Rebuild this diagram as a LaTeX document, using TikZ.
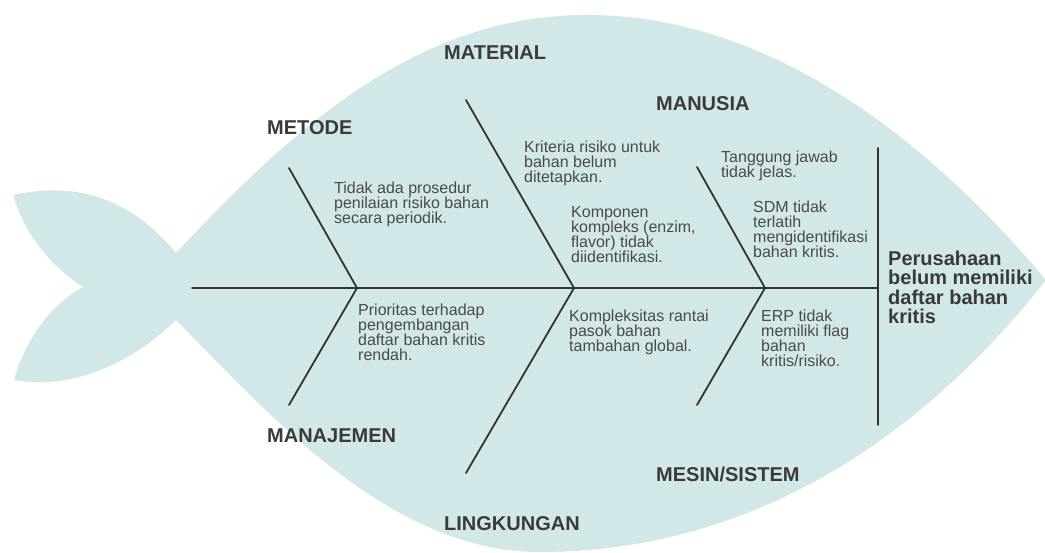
\documentclass[tikz,border=0pt]{standalone}
\usepackage{fontspec}
\setmainfont{Liberation Sans}
\definecolor{fishfill}{HTML}{D2E7E7}
\definecolor{bonecol}{HTML}{333333}
\definecolor{labelcol}{HTML}{3A3A3A}
\definecolor{causecol}{HTML}{4A4A4A}
\newcommand\tstr{\rule{0pt}{13pt}}
\newcommand\hstr{\rule{0pt}{16pt}}
\begin{document}
\begin{tikzpicture}[x=1pt,y=-1pt,
  bone/.style={draw=bonecol,line width=1.8pt,line cap=round},
  catlabel/.style={anchor=base west,inner sep=0pt,text=labelcol,font=\fontsize{20}{20}\selectfont\bfseries},
  cause/.style={anchor=north west,inner sep=0pt,align=left,text=causecol,font=\fontsize{16}{15}\selectfont},
  headtext/.style={anchor=north west,inner sep=0pt,align=left,text=labelcol,font=\fontsize{20}{19.5}\selectfont\bfseries}]
\useasboundingbox (0,0) rectangle (1045,552);
% fish body
\fill[fishfill] (176,253)
  .. controls (300,120) and (420,18) .. (580,15)
  .. controls (760,12) and (920,130) .. (1046,280)
  .. controls (920,440) and (750,552) .. (540,552)
  .. controls (390,552) and (270,415) .. (176,320)
  .. controls (130,365) and (70,390) .. (14,380)
  .. controls (25,340) and (50,305) .. (83,287)
  .. controls (50,265) and (25,235) .. (13,195)
  .. controls (90,178) and (140,210) .. (176,253)
  -- cycle;
% coordinates
\coordinate (tailend) at (192,288);
\coordinate (head) at (878,288);
\coordinate (htop) at (878,148);
\coordinate (hbot) at (878,425);
\coordinate (j1) at (357,288);
\coordinate (j2) at (574,288);
\coordinate (j3) at (765,288);
\coordinate (b1t) at (289,168);
\coordinate (b1b) at (289,405);
\coordinate (b2t) at (466,100);
\coordinate (b2b) at (466,473);
\coordinate (b3t) at (697,167);
\coordinate (b3b) at (697,405);
% bones
\draw[bone] (tailend) -- (head);
\draw[bone] (htop) -- (hbot);
\draw[bone] (b1t) -- (j1) -- (b1b);
\draw[bone] (b2t) -- (j2) -- (b2b);
\draw[bone] (b3t) -- (j3) -- (b3b);
% category labels
\node[catlabel] (material) at (444,59) {MATERIAL};
\node[catlabel] (metode) at (267,134) {METODE};
\node[catlabel] (manusia) at (656,110) {MANUSIA};
\node[catlabel] (manajemen) at (267,442) {MANAJEMEN};
\node[catlabel] (lingkungan) at (444,530) {LINGKUNGAN};
\node[catlabel] (mesin) at (656,481) {MESIN/SISTEM};
% causes
\node[cause] (c1) at (334,180) {\tstr Tidak ada prosedur\\penilaian risiko bahan\\secara periodik.};
\node[cause] (c2) at (358,302) {\tstr Prioritas terhadap\\pengembangan\\daftar bahan kritis\\rendah.};
\node[cause] (c3) at (524,139) {\tstr Kriteria risiko untuk\\bahan belum\\ditetapkan.};
\node[cause] (c4) at (571,204) {\tstr Komponen\\kompleks (enzim,\\flavor) tidak\\diidentifikasi.};
\node[cause] (c5) at (721,149) {\tstr Tanggung jawab\\tidak jelas.};
\node[cause] (c6) at (753,199) {\tstr SDM tidak\\terlatih\\mengidentifikasi\\bahan kritis.};
\node[cause] (c7) at (569,308) {\tstr Kompleksitas rantai\\pasok bahan\\tambahan global.};
\node[cause] (c8) at (761,308) {\tstr ERP tidak\\memiliki flag\\bahan\\kritis/risiko.};
% effect
\node[headtext] (effect) at (888,249) {\hstr Perusahaan\\belum memiliki\\daftar bahan\\kritis};
\end{tikzpicture}
\end{document}
